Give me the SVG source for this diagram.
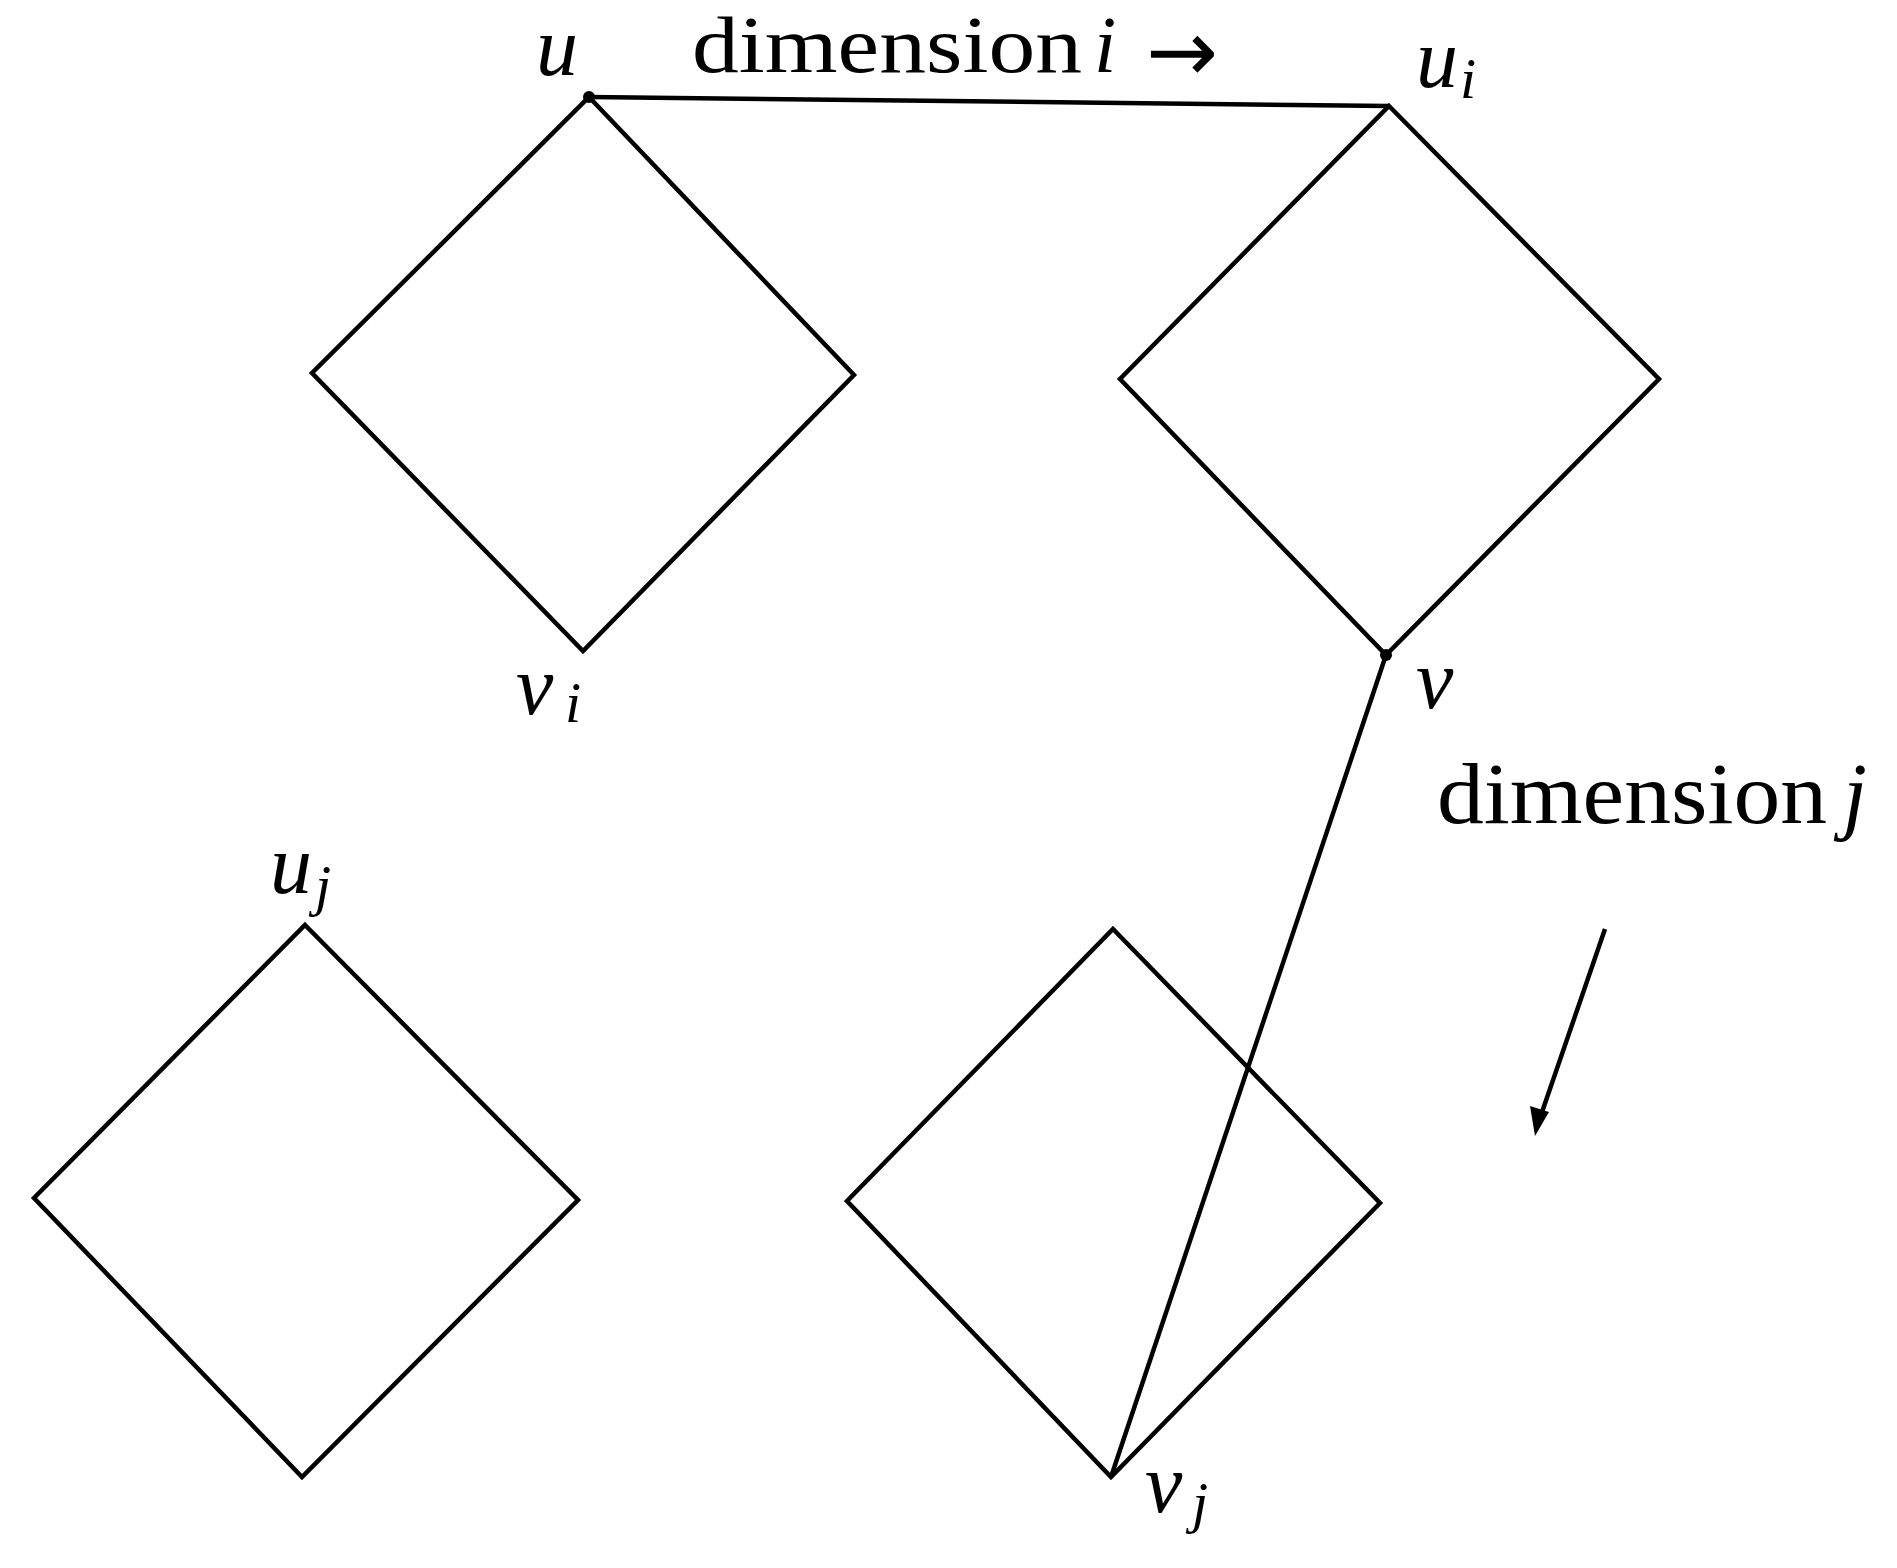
<svg xmlns="http://www.w3.org/2000/svg" width="1897" height="1568" viewBox="0 0 1897 1568">
<style>
.ln{fill:none;stroke:#000;stroke-width:4.5;stroke-linejoin:miter}
.t{font-family:"Liberation Serif","DejaVu Serif",serif;fill:#000}
.m{font-family:"Liberation Serif","DejaVu Serif",serif;font-style:italic;fill:#000}
.ar{font-family:"DejaVu Sans","Liberation Sans",sans-serif;fill:#000}
</style>
<rect width="1897" height="1568" fill="#fff"/>
<g id="cube-u">
<polygon class="ln" points="589,97 854,375 583,651 312,373"/>
</g>
<g id="cube-ui">
<polygon class="ln" points="1389,106 1659,379 1386,655 1120,379"/>
</g>
<g id="cube-uj">
<polygon class="ln" points="305,925 578,1200 302,1477 34,1198"/>
</g>
<g id="cube-vj">
<polygon class="ln" points="1113,929 1380,1203 1111,1477 847,1201"/>
</g>
<g id="connectors">
<line class="ln" x1="589" y1="97" x2="1389" y2="106"/>
<line class="ln" x1="1386" y1="655" x2="1111" y2="1477"/>
<circle cx="589" cy="97" r="6" fill="#000"/>
<circle cx="1386" cy="655" r="6" fill="#000"/>
<line class="ln" x1="1605" y1="929" x2="1541" y2="1115"/>
<path d="M1530,1106 L1549,1112 L1535,1136 Z" fill="#000"/>
</g>
<g id="labels">
<text class="m" x="536" y="75" font-size="84">u</text>
<text class="t" x="692" y="72" font-size="80" textLength="390" lengthAdjust="spacingAndGlyphs">dimension</text>
<text class="m" x="1094" y="72" font-size="80">i</text>
<text class="ar" x="1146" y="81" font-size="86">→</text>
<text class="m" x="1416" y="87" font-size="84">u</text>
<text class="m" x="1460" y="98" font-size="58">i</text>
<text class="m" x="516" y="714" font-size="84">v</text>
<text class="m" x="565" y="722" font-size="58">i</text>
<text class="m" x="1416" y="708" font-size="84">v</text>
<text class="t" x="1437" y="823" font-size="86" textLength="390" lengthAdjust="spacingAndGlyphs">dimension</text>
<text class="m" x="1843" y="823" font-size="86">j</text>
<text class="m" x="270" y="893" font-size="84">u</text>
<text class="m" x="315" y="905" font-size="58">j</text>
<text class="m" x="1145" y="1512" font-size="84">v</text>
<text class="m" x="1192" y="1522" font-size="58">j</text>
</g>
</svg>
